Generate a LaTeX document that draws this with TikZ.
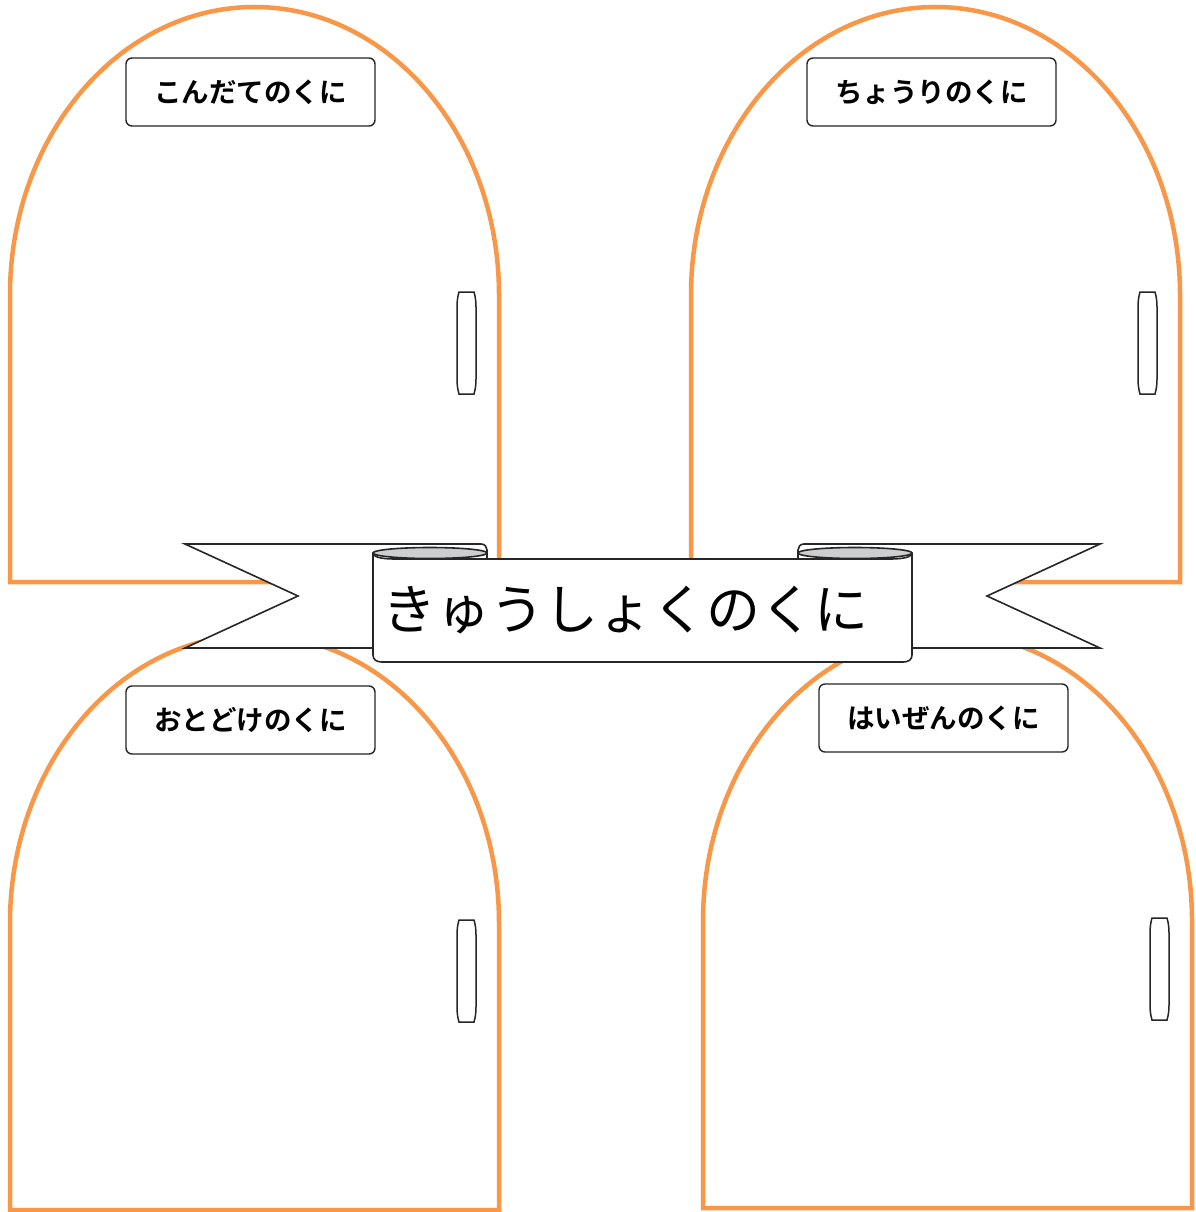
\documentclass[tikz,border=0pt]{standalone}
\usepackage{fontspec}
\newfontfamily\jpfont[BoldFont={Noto Sans CJK JP Bold}]{Noto Sans CJK JP}
\definecolor{doororange}{RGB}{247,151,71}
\definecolor{curlgray}{RGB}{205,206,208}

\begin{document}
\begin{tikzpicture}[x=1pt,y=-1pt,
	door_line/.style={draw=doororange,line width=4.5pt,fill=white},
	door_handle/.style={draw=black!85,line width=1.5pt,fill=white},
	door_sign/.style={draw=black!85,line width=1.4pt,rounded corners=6pt,fill=white,minimum width=249pt,minimum height=68pt,inner sep=0pt,font=\jpfont\bfseries\fontsize{27.5}{27.5}\selectfont},
	ribbon/.style={draw=black!85,line width=1.6pt,fill=white}]
	\fill[white] (0,0) rectangle (1195,1212);
	\useasboundingbox (0,0) rectangle (1195,1212);

	\foreach \dx/\dy/\dname/\dtext in {10/7/menu/こんだてのくに, 691/7/cook/ちょうりのくに, 10/635/deliver/おとどけのくに, 703/633/serve/はいぜんのくに}{
		\begin{scope}[shift={(\dx,\dy)}]
			\draw[door_line] (0,288) .. controls (0,128.9) and (109.5,0) .. (244.5,0) .. controls (379.5,0) and (489,128.9) .. (489,288) -- (489,575) -- (0,575) -- cycle;
			\draw[door_handle] (449,285) -- (464,285) .. controls (465.5,290) and (466,295) .. (466,300) -- (466,372) .. controls (466,377) and (465.5,382) .. (464,387) -- (449,387) .. controls (447.5,382) and (447,377) .. (447,372) -- (447,300) .. controls (447,295) and (447.5,290) .. (449,285) -- cycle;
			\node[door_sign] (\dname) at (240.5,85) {\raisebox{-2.5pt}{\dtext}\hspace{7pt}};
		\end{scope}
	}

	% banner
	\draw[ribbon] (185,544) -- (481,544) .. controls (485,544) and (487,547) .. (487,550) -- (487,648) -- (185,648) -- (298,596) -- cycle;
	\draw[ribbon] (1100,544) -- (804,544) .. controls (800,544) and (798,547) .. (798,550) -- (798,648) -- (1100,648) -- (987,596) -- cycle;
	\draw[ribbon,fill=curlgray] (430,553) ellipse [x radius=57pt,y radius=5.5pt];
	\draw[ribbon,fill=curlgray] (855,553) ellipse [x radius=57pt,y radius=5.5pt];
	\draw[ribbon] (373,554) .. controls (375,558) and (385,559) .. (396,559) -- (889,559) .. controls (900,559) and (910,558) .. (912,554) -- (912,655) .. controls (912,660) and (908,662) .. (903,662) -- (382,662) .. controls (377,662) and (373,660) .. (373,655) -- cycle;
	\node[font=\jpfont\fontsize{54}{54}\selectfont] (title) at (625,610) {きゅうしょくのくに};
\end{tikzpicture}
\end{document}
